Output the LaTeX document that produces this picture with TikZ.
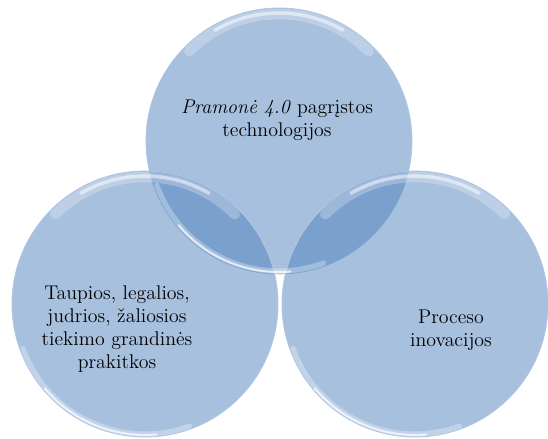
\documentclass[tikz,border=0pt]{standalone}
\usepackage{fontspec}
\definecolor{bubbleblue}{HTML}{4F81BD}

\begin{document}
\begin{tikzpicture}[x=0.02cm, y=0.02cm, every node/.style={font=\fontsize{11.3}{13}\selectfont, align=center},
	bubble/.style={circle, minimum size=5.32cm, inner sep=0pt, fill=bubbleblue, fill opacity=0.5, draw=bubbleblue!45, line width=0.5pt}]
	\useasboundingbox (0,0) rectangle (548,439);
	\node[bubble] (tech) at (279,298) {};
	\node[bubble] (supply) at (145,135) {};
	\node[bubble] (innov) at (415,135) {};
	\foreach \c in {tech,supply,innov} {
		\draw[white, opacity=0.25, line width=6pt, line cap=round] (\c.center) ++(45:2.54cm) arc[start angle=45, end angle=135, radius=2.54cm];
		\draw[white, opacity=0.5, line width=2pt, line cap=round] (\c.center) ++(60:2.56cm) arc[start angle=60, end angle=120, radius=2.56cm];
		\draw[white, opacity=0.3, line width=3pt, line cap=round] (\c.center) ++(200:2.6cm) arc[start angle=200, end angle=290, radius=2.6cm];
		\draw[white, opacity=0.7, line width=1.2pt, line cap=round] (\c.center) ++(220:2.62cm) arc[start angle=220, end angle=275, radius=2.62cm];
	}
	\node (techtext) at (277,319) {\textit{Pramonė 4.0} pagrįstos\\technologijos};
	\node (supplytext) at (117,110) {Taupios, legalios,\\judrios, žaliosios\\tiekimo grandinės\\prakitkos};
	\node (innovtext) at (451,109) {Proceso\\inovacijos};
\end{tikzpicture}
\end{document}
